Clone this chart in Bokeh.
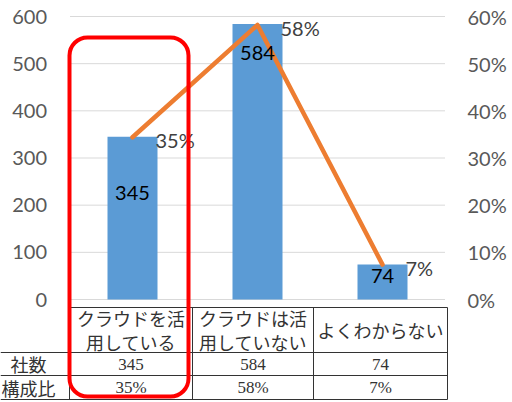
from bokeh.plotting import figure
from bokeh.models import (ColumnDataSource, Range1d, LinearAxis, FixedTicker,
                          NumeralTickFormatter, BoxAnnotation)
from bokeh.core.properties import value
from bokeh.embed import file_html
from bokeh.resources import INLINE

# ---------------- data ----------------
categories = ["クラウドを活\n用している", "クラウドは活\n用していない", "よくわからない"]
counts = [345, 584, 74]
shares = [0.344, 0.582, 0.074]
count_labels = ["345", "584", "74"]
share_labels = ["35%", "58%", "7%"]
left_ticks = [0, 100, 200, 300, 400, 500, 600]
left_tick_labels = ["0", "100", "200", "300", "400", "500", "600"]
right_ticks = [0, 0.1, 0.2, 0.3, 0.4, 0.5, 0.6]
row_names = ["社数", "構成比"]

# ---------------- layout (pixels) ----------------
W, H = 512, 402
FRAME_R = 448
X0_PX, X_STEP = 132.0, 125.0          # centre of first category, category spacing
Y0_PX, Y_SCALE = 299.0, 283.0 / 600   # pixel of value 0, pixels per unit


def xd(px):
    return (px - X0_PX) / X_STEP


def yd(py):
    return (Y0_PX - py) / Y_SCALE


xs = list(range(len(categories)))

p = figure(width=W, height=H, x_range=Range1d(xd(0), xd(FRAME_R)),
           y_range=Range1d(yd(H), yd(0)), output_backend="svg",
           toolbar_location=None, x_axis_location=None, y_axis_location=None,
           min_border=0, min_border_right=W - FRAME_R,
           outline_line_color=None, background_fill_color="white",
           border_fill_color="white")
p.grid.visible = False
p.extra_y_ranges = {"pct": Range1d(yd(H) / 1000, yd(0) / 1000)}

# right (percent) axis
ax = LinearAxis(y_range_name="pct", ticker=FixedTicker(ticks=right_ticks),
                formatter=NumeralTickFormatter(format="0%"),
                axis_line_color=None, major_tick_line_color=None,
                minor_tick_line_color=None, major_tick_out=0, major_tick_in=0,
                major_label_standoff=19, major_label_text_font="Lato",
                major_label_text_font_size="20px",
                major_label_text_color="#595959")
p.add_layout(ax, "right")

# gridlines
p.segment(x0=[-0.5] * len(left_ticks), x1=[len(xs) - 0.5] * len(left_ticks),
          y0=left_ticks, y1=left_ticks, line_color="#D9D9D9", line_width=1)

# left axis labels
p.text(x=[-0.5] * len(left_ticks), y=left_ticks, text=left_tick_labels,
       x_offset=-23, text_align="right", text_baseline="middle",
       text_font=value("Lato"), text_font_size="20px", text_color="#595959")

# bars
p.vbar(x=xs, top=counts, width=0.4, fill_color="#5B9BD5", line_color=None)

# line on secondary axis
p.line(x=xs, y=shares, y_range_name="pct", line_color="#ED7D31",
       line_width=4.5, line_cap="round", line_join="round")

# bar labels
bar_label_dy = [56, 29, 11]
src_b = ColumnDataSource(dict(x=xs, y=counts, t=count_labels, dy=bar_label_dy))
p.text(x="x", y="y", text="t", y_offset="dy", source=src_b,
       text_align="center", text_baseline="middle", text_font=value("Lato"),
       text_font_size="20px", text_color="#000000")

# percent labels
p.text(x=xs, y=shares, text=share_labels, y_range_name="pct", x_offset=23,
       y_offset=3, text_align="left", text_baseline="middle",
       text_font=value("Lato"), text_font_size="20px", text_color="#404040")

# ---------------- data table ----------------
col_px = [69, 192, 313, 447]
row_px = [307, 352, 375, 399]
line_col = "#333333"
txt_col = "#333333"
# vertical lines
p.segment(x0=[xd(c) for c in col_px], x1=[xd(c) for c in col_px],
          y0=[yd(row_px[0])] * len(col_px), y1=[yd(row_px[-1])] * len(col_px),
          line_color=line_col, line_width=1)
# horizontal lines
h_left = [col_px[0]] + [0] * (len(row_px) - 1)
p.segment(x0=[xd(l) for l in h_left], x1=[xd(col_px[-1])] * len(row_px),
          y0=[yd(r) for r in row_px], y1=[yd(r) for r in row_px],
          line_color=line_col, line_width=1)

col_centers = [xd((col_px[i] + col_px[i + 1]) / 2) for i in range(len(categories))]
row_centers = [yd((row_px[i] + row_px[i + 1]) / 2) for i in range(len(row_px) - 1)]

p.text(x=col_centers, y=[row_centers[0]] * len(categories), text=categories,
       text_align="center", text_baseline="middle",
       text_font=value("Noto Sans CJK JP"), text_font_size="18px",
       text_line_height=0.9, text_color=txt_col)
p.text(x=[xd(28)] * 2, y=row_centers[1:], text=row_names,
       text_align="center", text_baseline="middle",
       text_font=value("Noto Sans CJK JP"), text_font_size="18px",
       text_color=txt_col)
p.text(x=col_centers, y=[row_centers[1]] * len(categories), text=count_labels,
       text_align="center", text_baseline="middle",
       text_font=value("Liberation Serif"), text_font_size="17px",
       text_color=txt_col)
p.text(x=col_centers, y=[row_centers[2]] * len(categories), text=share_labels,
       text_align="center", text_baseline="middle",
       text_font=value("Liberation Serif"), text_font_size="17px",
       text_color=txt_col)

# highlight box around first category
box = BoxAnnotation(left=xd(69), right=xd(188), top=yd(37), bottom=yd(396),
                    fill_color=None, fill_alpha=0, line_color="#FF0000",
                    line_alpha=1.0, line_width=4, border_radius=18,
                    level="overlay")
p.add_layout(box)

open("out.html", "w").write(file_html(p, INLINE))
